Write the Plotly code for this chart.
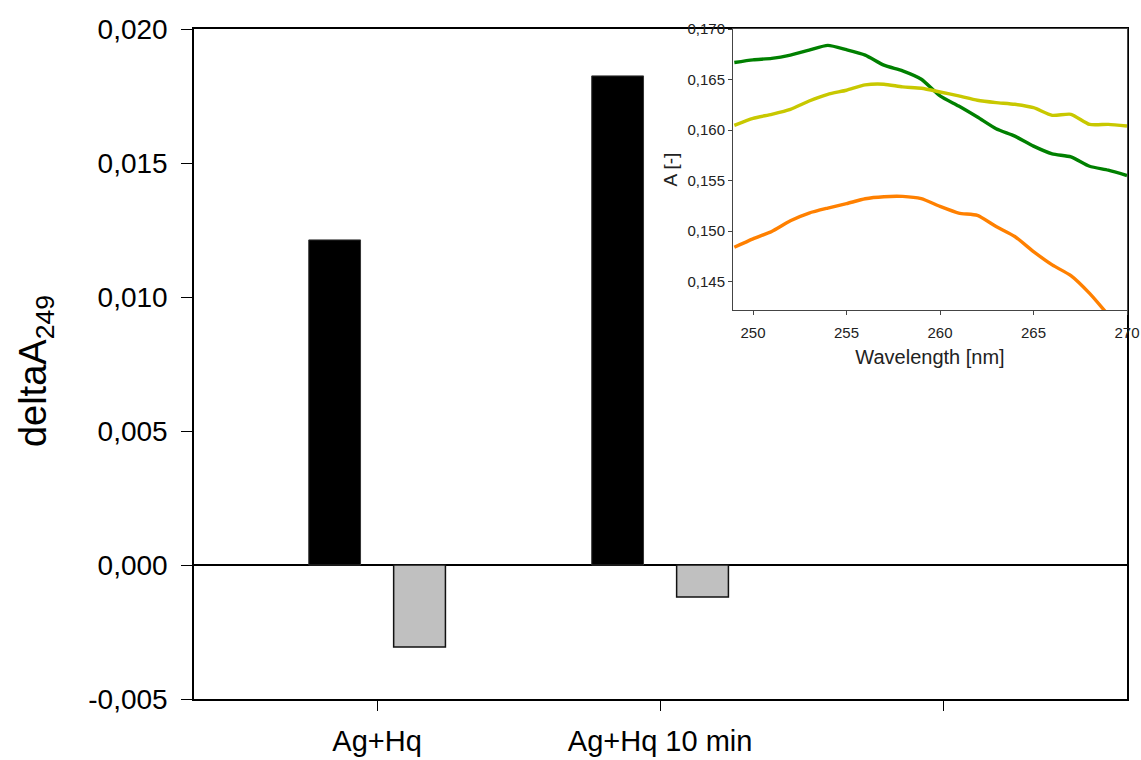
import plotly.graph_objects as go

# ---- Main bar chart data ----
categories = ["Ag+Hq", "Ag+Hq 10 min", ""]
cat_pos = [0, 1, 2]
black_vals = [0.01213, 0.01825]
gray_vals = [-0.00306, -0.00119]
y_ticks = [-0.005, 0.000, 0.005, 0.010, 0.015, 0.020]
y_ticktext = ["-0,005", "0,000", "0,005", "0,010", "0,015", "0,020"]

# ---- Inset spectra data ----
wavelength = [249, 250, 251, 252, 253, 254, 255, 256, 257, 258, 259,
              260, 261, 262, 263, 264, 265, 266, 267, 268, 269, 270]
a_green = [0.16669, 0.16695, 0.16709, 0.16742, 0.16791, 0.16838, 0.16795,
           0.16742, 0.16642, 0.16586, 0.16503, 0.16338, 0.16238, 0.16129,
           0.16013, 0.15940, 0.15841, 0.15765, 0.15735, 0.15642, 0.15603,
           0.15550]
a_yellow = [0.16046, 0.16116, 0.16156, 0.16205, 0.16288, 0.16354, 0.16394,
            0.16447, 0.16454, 0.16427, 0.16414, 0.16377, 0.16338, 0.16295,
            0.16272, 0.16255, 0.16222, 0.16146, 0.16156, 0.16056, 0.16056,
            0.16040]
a_orange = [0.14841, 0.14924, 0.14997, 0.15103, 0.15179, 0.15228, 0.15272,
            0.15321, 0.15341, 0.15344, 0.15321, 0.15245, 0.15179, 0.15156,
            0.15046, 0.14947, 0.14798, 0.14666, 0.14560, 0.14384, 0.14170]
inset_xticks = [250, 255, 260, 265, 270]
inset_yticks = [0.145, 0.150, 0.155, 0.160, 0.165, 0.170]
inset_yticktext = ["0,145", "0,150", "0,155", "0,160", "0,165", "0,170"]

FONT = "Liberation Sans, Arial, sans-serif"

fig = go.Figure()
fig.add_bar(x=cat_pos[:len(black_vals)], y=black_vals,
            marker=dict(color="black", line=dict(color="#333333", width=1)),
            xaxis="x", yaxis="y")
fig.add_bar(x=cat_pos[:len(gray_vals)], y=gray_vals,
            marker=dict(color="#c0c0c0", line=dict(color="#111111", width=1.5)),
            xaxis="x", yaxis="y")

fig.add_scatter(x=wavelength, y=a_green, mode="lines",
                line=dict(color="#008000", width=3.4, shape="spline", smoothing=0.6),
                xaxis="x2", yaxis="y2")
fig.add_scatter(x=wavelength, y=a_yellow, mode="lines",
                line=dict(color="#c8c800", width=3.4, shape="spline", smoothing=0.6),
                xaxis="x2", yaxis="y2")
fig.add_scatter(x=wavelength[:len(a_orange)], y=a_orange, mode="lines",
                line=dict(color="#ff8000", width=3.4, shape="spline", smoothing=0.6),
                xaxis="x2", yaxis="y2")

fig.update_layout(
    template="none",
    width=1141, height=760,
    autosize=False,
    margin=dict(l=194, r=14, t=29, b=61, autoexpand=False),
    paper_bgcolor="white", plot_bgcolor="white",
    showlegend=False,
    barmode="group", bargap=0.4, bargroupgap=0.39,
    font=dict(family=FONT, color="black"),
    xaxis=dict(
        domain=[0, 1], anchor="y", automargin=False,
        range=[-0.647, 2.65],
        tickvals=cat_pos, ticktext=categories,
        ticks="outside", ticklen=10, tickwidth=1.2, tickcolor="black",
        showline=True, mirror=True, linecolor="black", linewidth=1.5,
        showgrid=False, zeroline=False,
        tickfont=dict(family=FONT, size=29, color="black"),
        ticklabelstandoff=5,
    ),
    yaxis=dict(
        domain=[0, 1], anchor="x", automargin=False,
        range=[-0.005, 0.020],
        tickvals=y_ticks, ticktext=y_ticktext,
        ticks="outside", ticklen=11, tickwidth=1.2, tickcolor="black",
        showline=True, mirror=True, linecolor="black", linewidth=1.5,
        showgrid=False,
        zeroline=True, zerolinecolor="black", zerolinewidth=1.5,
        tickfont=dict(family=FONT, size=28, color="black"),
        ticklabelstandoff=8,
    ),
    xaxis2=dict(
        domain=[0.5777, 1.0], anchor="y2", automargin=False,
        range=[248.93, 270],
        tickvals=inset_xticks,
        ticks="outside", ticklen=4, tickcolor="#444444",
        showline=True, mirror=True, linecolor="#444444", linewidth=1,
        showgrid=False, zeroline=False,
        tickfont=dict(family=FONT, size=15, color="#222222"),
        ticklabelstandoff=5,
        title=dict(text="Wavelength [nm]", font=dict(family=FONT, size=20, color="#222222"),
                   standoff=10),
    ),
    yaxis2=dict(
        domain=[0.5806, 1.0], anchor="x2", automargin=False,
        range=[0.1422, 0.170],
        tickvals=inset_yticks, ticktext=inset_yticktext,
        ticks="outside", ticklen=4, tickcolor="#444444",
        showline=True, mirror=True, linecolor="#444444", linewidth=1,
        showgrid=False, zeroline=False,
        tickfont=dict(family=FONT, size=15, color="#222222"),
        title=dict(text="A [-]", font=dict(family=FONT, size=19, color="#222222"),
                   standoff=4),
    ),
    annotations=[
        dict(text="deltaA<sub>249</sub>", xref="paper", yref="paper",
             x=-0.170, y=0.49, xanchor="center", yanchor="middle",
             textangle=-90, showarrow=False,
             font=dict(family=FONT, size=38, color="black")),
    ],
)

fig.write_html("out.html")
